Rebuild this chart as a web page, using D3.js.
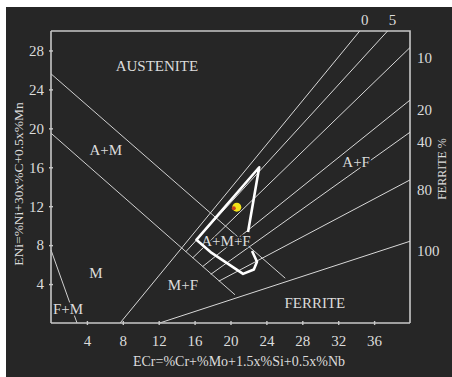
<!DOCTYPE html>
<html>
<head>
<meta charset="utf-8">
<script src="https://cdn.jsdelivr.net/npm/d3@7"></script>
<style>
  html, body { margin: 0; padding: 0; background: #fff; }
  svg { display: block; }
  text { font-family: "Liberation Serif", "DejaVu Serif", serif; fill: #dcdcdc; }
</style>
</head>
<body>
<div id="chart"></div>
<script>
// tick values
const xTicks = [4, 8, 12, 16, 20, 24, 28, 32, 36];
const yTicks = [4, 8, 12, 16, 20, 24, 28];

// phase boundaries, [ECr, ENi]
const boundaryLines = [
  [[0, 25.6], [26.1, 4.6]],   // A / A+M
  [[0, 19.5], [20.5, 2.9]],   // A+M / M
  [[0, 7.5], [2.9, 0]]        // M / F+M
];

// iso-ferrite lines
const ferriteLabels = ['0', '5', '10', '20', '40', '80', '100'];
const ferriteStart = [[7.7, 0], [15.0, 7.3], [15.8, 6.7], [16.9, 5.8], [17.8, 5.0], [18.7, 4.3], [12.1, 0]];
const ferriteEnd = [[34.4, 30], [37.5, 30], [40, 28.3], [40, 22.9], [40, 19.6], [40, 14.7], [40, 8.4]];

// highlighted weld region
const regionPts = [[21.95, 9.35], [23.2, 16.0], [16.2, 8.55], [17.9, 7.2], [21.4, 5.05], [22.6, 5.5], [22.95, 6.3], [22.4, 7.4]];
const weldPoint = [20.7, 11.9];

// region names
const regionNames = ['AUSTENITE', 'A+M', 'M', 'M+F', 'F+M', 'A+M+F', 'A+F', 'FERRITE'];
const regionPos = [[11.8, 25.9], [6.1, 17.3], [5.0, 4.6], [14.7, 3.4], [1.9, 0.9], [19.5, 7.9], [34.0, 16.0], [29.4, 1.55]];

const W = 452, H = 377;
const svg = d3.select('#chart').append('svg')
  .attr('width', W)
  .attr('height', H);

svg.append('rect')
  .attr('x', 6).attr('y', 7)
  .attr('width', W - 6).attr('height', H - 7)
  .attr('fill', '#262626');

const x = d3.scaleLinear([0, 40], [51, 410]);
const y = d3.scaleLinear([0, 30], [323, 31]);
const line = d3.line().x(d => x(d[0])).y(d => y(d[1]));

// frame (top + right)
svg.append('path')
  .attr('d', `M${x(0)},${y(30)}H${x(40)}V${y(0)}`)
  .attr('fill', 'none')
  .attr('stroke', '#c8c8c8')
  .attr('stroke-width', 1.6);

const g = svg.append('g');

g.selectAll('.bnd')
  .data(boundaryLines)
  .join('path')
    .attr('class', 'bnd')
    .attr('d', line)
    .attr('fill', 'none')
    .attr('stroke', '#d0d0d0')
    .attr('stroke-width', 1);

g.selectAll('.fer')
  .data(ferriteLabels)
  .join('path')
    .attr('class', 'fer')
    .attr('d', (d, i) => line([ferriteStart[i], ferriteEnd[i]]))
    .attr('fill', 'none')
    .attr('stroke', '#d8d8d8')
    .attr('stroke-width', 1);

// ferrite % labels
g.selectAll('.flab')
  .data(ferriteLabels)
  .join('text')
    .attr('class', 'flab')
    .attr('x', (d, i) => ferriteEnd[i][1] >= 30 ? x(ferriteEnd[i][0]) + 5 : x(40) + 7)
    .attr('y', (d, i) => ferriteEnd[i][1] >= 30 ? y(30) - 6 : y(ferriteEnd[i][1]) + 15)
    .attr('text-anchor', (d, i) => ferriteEnd[i][1] >= 30 ? 'middle' : 'start')
    .attr('font-size', 15)
    .text(d => d);

svg.append('text')
  .attr('transform', 'translate(446,169) rotate(-90)')
  .attr('text-anchor', 'middle')
  .attr('font-size', 12)
  .text('FERRITE %');

// region labels (with dark backing like the original)
g.selectAll('.rlab')
  .data(regionNames)
  .join('text')
    .attr('class', 'rlab')
    .attr('x', (d, i) => x(regionPos[i][0]))
    .attr('y', (d, i) => y(regionPos[i][1]))
    .attr('text-anchor', 'middle')
    .attr('font-size', 15)
    .attr('stroke', '#262626')
    .attr('stroke-width', 3)
    .attr('paint-order', 'stroke')
    .text(d => d);

// weld region
g.append('path')
  .attr('d', line(regionPts))
  .attr('fill', 'none')
  .attr('stroke', '#ffffff')
  .attr('stroke-width', 2.6)
  .attr('stroke-linejoin', 'round');

g.append('circle')
  .attr('cx', x(weldPoint[0])).attr('cy', y(weldPoint[1]))
  .attr('r', 4.5)
  .attr('fill', '#f2e21a');
g.append('circle')
  .attr('cx', x(weldPoint[0]) - 3).attr('cy', y(weldPoint[1]) + 1)
  .attr('r', 2)
  .attr('fill', '#c8401a');

// axes
const xAxis = svg.append('g')
  .attr('transform', `translate(0,${y(0)})`)
  .call(d3.axisBottom(x).tickValues(xTicks).tickSize(2).tickPadding(10).tickSizeOuter(0));
const yAxis = svg.append('g')
  .attr('transform', `translate(${x(0)},0)`)
  .call(d3.axisLeft(y).tickValues(yTicks).tickSize(2).tickPadding(5).tickSizeOuter(0));

[xAxis, yAxis].forEach(a => {
  a.select('.domain')
    .attr('d', a === xAxis ? `M${x(0)},0H${x(40)}` : `M0,${y(0)}V${y(30)}`)
    .attr('stroke', '#c8c8c8')
    .attr('stroke-width', 1.6);
  a.selectAll('.tick line').attr('stroke', '#c8c8c8').attr('stroke-width', 1.4);
  a.selectAll('.tick text')
    .attr('fill', '#dcdcdc')
    .attr('font-family', '"Liberation Serif", serif')
    .attr('font-size', 15);
});
xAxis.selectAll('.tick line').attr('y1', -2);
yAxis.selectAll('.tick line').attr('x1', 2);

svg.append('text')
  .attr('x', 239).attr('y', 366)
  .attr('text-anchor', 'middle')
  .attr('font-size', 14)
  .text('ECr=%Cr+%Mo+1.5x%Si+0.5x%Nb');

svg.append('text')
  .attr('transform', 'translate(23,184) rotate(-90)')
  .attr('text-anchor', 'middle')
  .attr('font-size', 13.5)
  .text('ENi=%Ni+30x%C+0.5x%Mn');
</script>
</body>
</html>
